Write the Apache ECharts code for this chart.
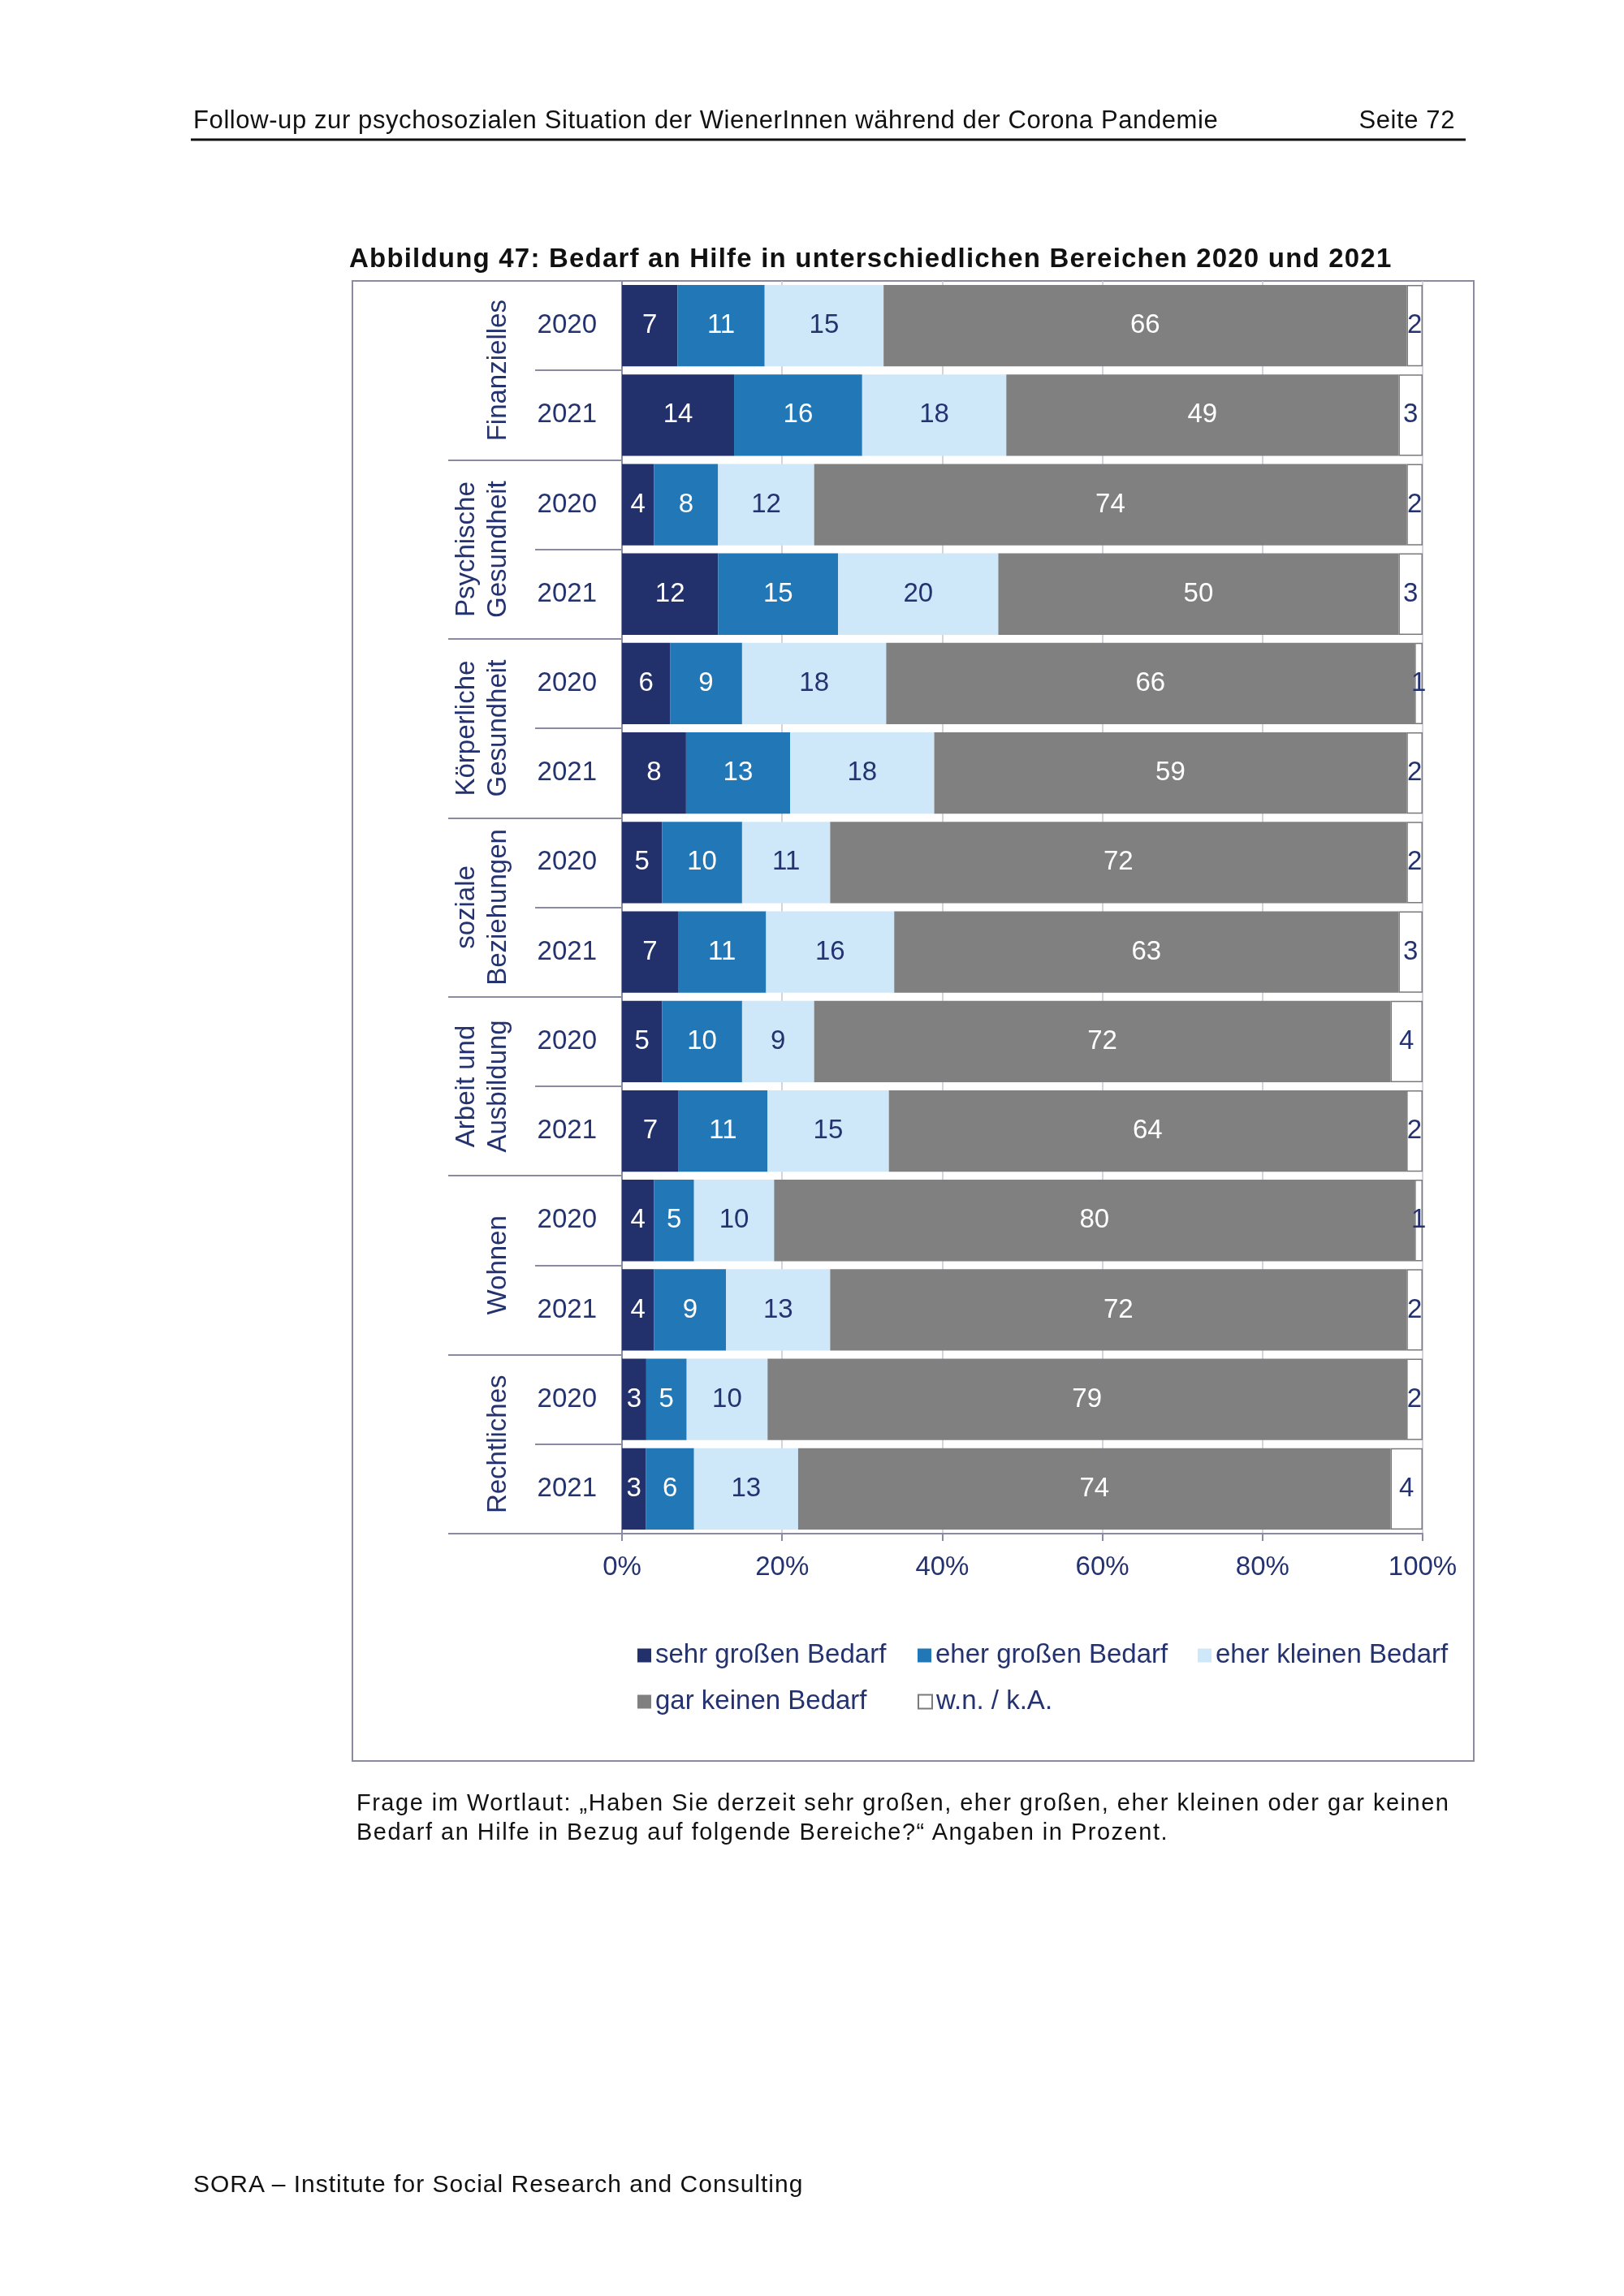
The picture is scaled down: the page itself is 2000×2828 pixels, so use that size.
<!DOCTYPE html>
<html>
<head>
<meta charset="utf-8">
<script src="https://cdn.jsdelivr.net/npm/echarts@6/dist/echarts.min.js"></script>
<style>
  html, body { margin: 0; padding: 0; background: #fff; }
  #page { position: relative; width: 2000px; height: 2828px; }
  #chart { position: absolute; left: 0; top: 0; width: 2000px; height: 2828px; }
  .txt { position: absolute; font-family: "Liberation Sans", Arial, sans-serif; color: #111; white-space: pre; }
  #head { left: 238px; top: 130px; font-size: 31px; line-height: 36px; letter-spacing: 0.6px; }
  #pageno { right: 208px; top: 130px; font-size: 31px; line-height: 36px; letter-spacing: 0.6px; }
  #title { left: 430px; top: 298px; font-size: 33px; line-height: 40px; font-weight: bold; letter-spacing: 1.2px; }
  #note { left: 439px; top: 2202px; font-size: 29px; line-height: 36px; letter-spacing: 1.5px; }
  #foot { left: 238px; top: 2672px; font-size: 30px; line-height: 36px; letter-spacing: 1px; }
</style>
</head>
<body>
<div id="page">
  <div id="chart"></div>
  <div class="txt" id="head">Follow-up zur psychosozialen Situation der WienerInnen während der Corona Pandemie</div>
  <div class="txt" id="pageno">Seite 72</div>
  <div class="txt" id="title">Abbildung 47: Bedarf an Hilfe in unterschiedlichen Bereichen 2020 und 2021</div>
  <div class="txt" id="note">Frage im Wortlaut: „Haben Sie derzeit sehr großen, eher großen, eher kleinen oder gar keinen
Bedarf an Hilfe in Bezug auf folgende Bereiche?“ Angaben in Prozent.</div>
  <div class="txt" id="foot">SORA – Institute for Social Research and Consulting</div>
</div>
<script>
// Bereiche (von oben nach unten) und Jahre
const groups = ["Finanzielles", "Psychische\nGesundheit", "Körperliche\nGesundheit", "soziale\nBeziehungen", "Arbeit und\nAusbildung", "Wohnen", "Rechtliches"]
const years = ["2020", "2021"]

// Werte in Prozent, je Zeile: Finanzielles 2020, Finanzielles 2021, Psychische 2020, ...
const sehrGross = [7, 14, 4, 12, 6, 8, 5, 7, 5, 7, 4, 4, 3, 3]
const eherGross = [11, 16, 8, 15, 9, 13, 10, 11, 10, 11, 5, 9, 5, 6]
const eherKlein = [15, 18, 12, 20, 18, 18, 11, 16, 9, 15, 10, 13, 10, 13]
const garKein = [66, 49, 74, 50, 66, 59, 72, 63, 72, 64, 80, 72, 79, 74]
const wnKA = [2, 3, 2, 3, 1, 2, 2, 3, 4, 2, 1, 2, 2, 4]

const seriesNames = ["sehr großen Bedarf", "eher großen Bedarf", "eher kleinen Bedarf", "gar keinen Bedarf", "w.n. / k.A."]
const xTicks = [0, 20, 40, 60, 80, 100]

const FONT = "Liberation Sans"
const NAVY = "#24326f"
const AXIS = "#8a8aa2"

const rows = []
groups.forEach(g => years.forEach(y => rows.push(g + "|" + y)))

const allValues = [sehrGross, eherGross, eherKlein, garKein, wnKA]
// 100%-gestapelt wie im Original: jede Zeile auf 100 normiert
const totals = rows.map((_, i) => allValues.reduce((s, arr) => s + arr[i], 0))

const colors = ["#22306c", "#2277b6", "#cfe8f9", "#808080", "#ffffff"]
const labelColors = ["#ffffff", "#ffffff", NAVY, "#ffffff", NAVY]

const chart = echarts.init(document.getElementById("chart"))

const series = allValues.map((arr, k) => ({
	name: seriesNames[k],
	type: "bar",
	stack: "total",
	barCategoryGap: "9%",
	yAxisIndex: 0,
	data: arr.map((v, i) => v / totals[i] * 100),
	itemStyle: k === 4
		? { color: colors[k], borderColor: "#7a7a7a", borderWidth: 1.5 }
		: { color: colors[k] },
	label: {
		show: true,
		position: "inside",
		fontFamily: FONT,
		fontSize: 33,
		color: labelColors[k],
		formatter: p => String(arr[p.dataIndex])
	},
	emphasis: { disabled: true },
	animation: false
}))

const legendBase = {
	orient: "horizontal",
	icon: "rect",
	itemWidth: 17,
	itemHeight: 17,
	itemGap: 30,
	padding: 0,
	selectedMode: false,
	textStyle: { fontFamily: FONT, fontSize: 33, color: NAVY, width: 293, lineHeight: 40 }
}

const option = {
	backgroundColor: "#ffffff",
	animation: false,
	grid: { left: 766, right: 248, top: 346, bottom: 939, containLabel: false, outerBoundsMode: "none" },
	xAxis: {
		type: "value",
		min: 0,
		max: 100,
		interval: 20,
		axisLine: { show: true, lineStyle: { color: AXIS, width: 2 } },
		axisTick: { show: true, length: 9, lineStyle: { color: AXIS, width: 2 } },
		splitLine: { show: true, lineStyle: { color: "#c6c6d0", width: 1.5 } },
		axisLabel: {
			margin: 25,
			fontFamily: FONT,
			fontSize: 33,
			color: NAVY,
			formatter: v => xTicks.includes(v) ? v + "%" : ""
		}
	},
	yAxis: [
		{
			type: "category",
			data: rows,
			inverse: true,
			position: "left",
			axisLine: { show: true, lineStyle: { color: AXIS, width: 2 } },
			axisTick: { show: true, length: 107, lineStyle: { color: AXIS, width: 2 } },
			axisLabel: {
				interval: 0,
				margin: 31,
				fontFamily: FONT,
				fontSize: 33,
				color: NAVY,
				formatter: v => v.split("|")[1]
			}
		},
		{
			type: "category",
			data: groups,
			inverse: true,
			position: "left",
			axisLine: { show: false },
			axisTick: { show: true, length: 214, lineStyle: { color: AXIS, width: 2 } },
			axisLabel: {
				interval: 0,
				rotate: 90,
				margin: 133,
				fontFamily: FONT,
				fontSize: 33,
				lineHeight: 39,
				color: NAVY
			}
		}
	],
	legend: [
		Object.assign({}, legendBase, { left: 785, top: 2019, data: seriesNames.slice(0, 3) }),
		Object.assign({}, legendBase, { left: 785, top: 2076, data: seriesNames.slice(3) })
	],
	series: series,
	graphic: [
		{
			type: "line", silent: true,
			shape: { x1: 235, y1: 172, x2: 1805, y2: 172 },
			style: { stroke: "#111", lineWidth: 3 }
		},
		{
			type: "rect", silent: true, z: -1,
			shape: { x: 434, y: 346, width: 1381, height: 1823 },
			style: { fill: "none", stroke: AXIS, lineWidth: 2 }
		}
	]
}

chart.setOption(option)
window.addEventListener("resize", () => chart.resize(), false)
</script>
</body>
</html>
